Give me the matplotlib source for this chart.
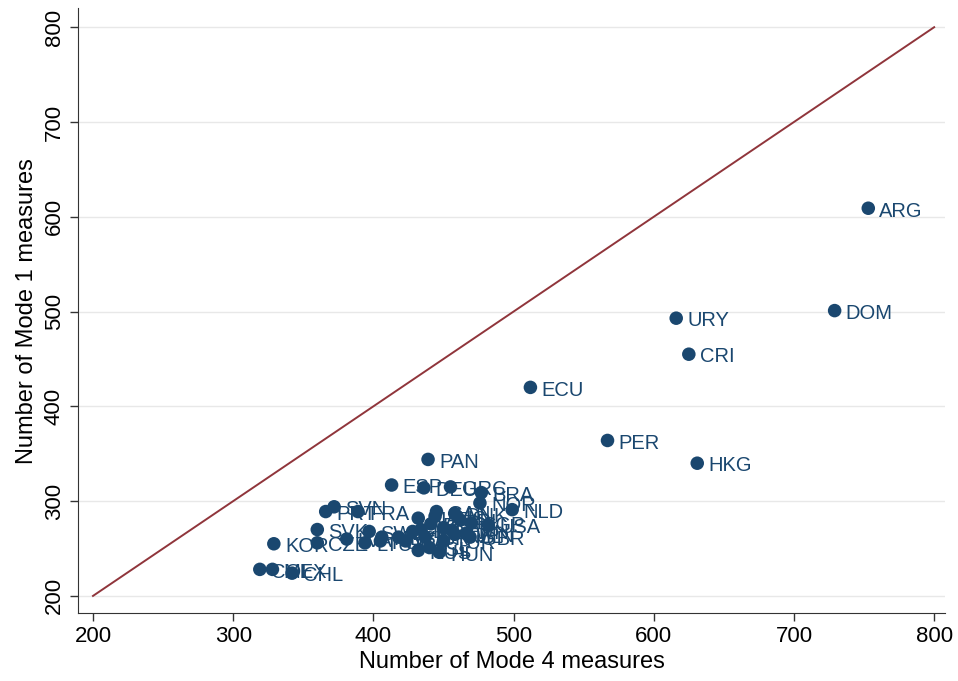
import numpy as np
import matplotlib.pyplot as plt

# -- Data ---------------------------------------------------------------------
countries = ['ARG', 'DOM', 'URY', 'CRI', 'ECU', 'PER', 'HKG', 'PAN',
             'ESP', 'DEU', 'GRC', 'BRA', 'NOR', 'NLD', 'USA', 'GBR',
             'SVN', 'PRT', 'FRA', 'SVK', 'SWE', 'KOR', 'CZE',
             'COL', 'MEX', 'CHL', 'CAN', 'DNK', 'HUN',
             'AUT', 'BEL', 'CHE', 'FIN', 'IRL', 'ISR', 'ITA', 'JPN',
             'LUX', 'POL', 'TUR', 'AUS', 'NZL', 'EST', 'LTU', 'LVA',
             'ISL', 'TWN', 'SGP', 'RUS', 'HRV']
mode4 = [753, 729, 616, 625, 512, 567, 631, 439,
         413, 436, 455, 477, 476, 499, 482, 469,
         372, 366, 389, 360, 397, 329, 360,
         319, 328, 342, 445, 458, 447,
         432, 441, 450, 428, 462, 437, 423, 466,
         434, 405, 450, 444, 458, 418, 394, 381,
         440, 456, 470, 432, 406]
mode1 = [609, 501, 493, 455, 420, 364, 340, 344,
         317, 314, 315, 309, 298, 291, 275, 262,
         294, 289, 289, 270, 268, 255, 256,
         228, 228, 224, 289, 287, 246,
         282, 276, 272, 268, 280, 262, 258, 266,
         270, 258, 258, 284, 265, 262, 256, 260,
         251, 269, 277, 248, 262]

navy = '#1a476f'
maroon = '#90353b'

plt.rcParams['font.family'] = ['Liberation Sans', 'DejaVu Sans']

fig = plt.figure(figsize=(9.58, 6.81), dpi=100)
ax = fig.add_axes([0.0814, 0.0999, 0.905, 0.888])

# equality line
ax.plot([200, 800], [200, 800], color=maroon, lw=1.4, zorder=2)

ax.scatter(mode4, mode1, s=95, color=navy, edgecolors='none', zorder=3)
for c, x, y in zip(countries, mode4, mode1):
    ax.annotate(c, (x, y), xytext=(8, -2), textcoords='offset points',
                ha='left', va='center', fontsize=14.5, color=navy, zorder=4)

ax.set_xlim(189.3, 807.7)
ax.set_ylim(182, 820)
ticks = [200, 300, 400, 500, 600, 700, 800]
ax.set_xticks(ticks)
ax.set_yticks(ticks)
ax.set_yticklabels([str(t) for t in ticks], rotation=90, va='center')
ax.tick_params(labelsize=16, length=6, width=1, color='#333333', direction='out')

ax.grid(axis='y', color='#e8e8e8', lw=1)
ax.set_axisbelow(True)
for side in ['top', 'right']:
    ax.spines[side].set_visible(False)
for side in ['left', 'bottom']:
    ax.spines[side].set_color('#333333')

ax.set_xlabel('Number of Mode 4 measures', fontsize=17, labelpad=3)
ax.set_ylabel('Number of Mode 1 measures', fontsize=17, labelpad=4)

fig.savefig('out.png', dpi=100)
